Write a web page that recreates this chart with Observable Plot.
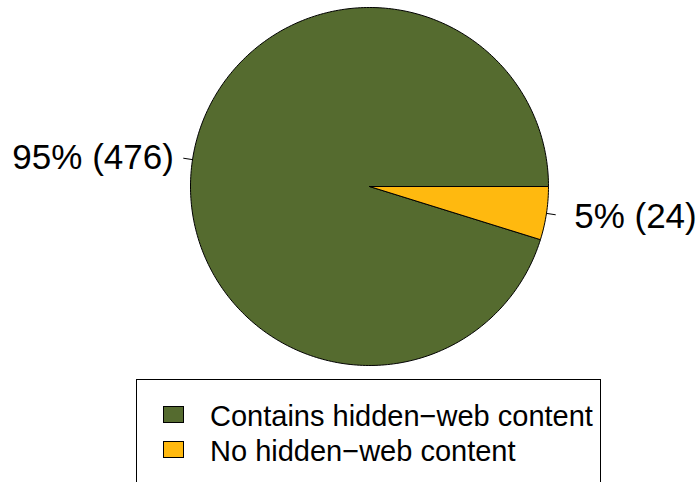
<!DOCTYPE html>
<html>
<head>
<meta charset="utf-8">
<script src="https://cdn.jsdelivr.net/npm/d3@7"></script>
<script src="https://cdn.jsdelivr.net/npm/@observablehq/plot@0.6"></script>
<style>
  html, body { margin: 0; padding: 0; background: #fff; overflow: hidden; width: 698px; height: 482px; }
  #wrap { position: relative; width: 698px; height: 482px; font-family: "Liberation Sans", Arial, Helvetica, sans-serif; }
  #legend { position: absolute; left: 136px; top: 379px; width: 465px; height: 200px; border: 1px solid #000; box-sizing: border-box; }
  .item { position: absolute; left: 73px; font-size: 29px; line-height: 1; white-space: nowrap; color: #000; }
  .sw { position: absolute; left: -47px; width: 21px; height: 17px; border: 1px solid #000; box-sizing: border-box; }
</style>
</head>
<body>
<div id="wrap"><div id="chart"></div><div id="legend"></div></div>
<script>
// Data
const categories = ["Contains hidden\u2212web content", "No hidden\u2212web content"];
const counts = [476, 24];
const colors = ["#556B2F", "#FFB90F"];

const total = d3.sum(counts);
// Angles counter-clockwise from 3 o'clock (as in R's pie)
let acc = 0;
const slices = counts.map((v, i) => {
  const a0 = acc / total * 2 * Math.PI;
  acc += v;
  const a1 = acc / total * 2 * Math.PI;
  return {cat: categories[i], value: v, a0, a1, mid: (a0 + a1) / 2,
          label: `${Math.round(v / total * 100)}% (${v})`};
});

// polygon vertices for each slice (unit radius)
const polys = [];
slices.forEach((s, i) => {
  const n = Math.max(2, Math.ceil((s.a1 - s.a0) / (Math.PI / 180)));
  polys.push({cat: s.cat, x: 0, y: 0, k: i});
  for (let j = 0; j <= n; j++) {
    const a = s.a0 + (s.a1 - s.a0) * j / n;
    polys.push({cat: s.cat, x: Math.cos(a), y: Math.sin(a), k: i});
  }
  polys.push({cat: s.cat, x: 0, y: 0, k: i});
});

const ticks = slices.flatMap((s, i) => [
  {k: i, x: Math.cos(s.mid), y: Math.sin(s.mid)},
  {k: i, x: 1.05 * Math.cos(s.mid), y: 1.05 * Math.sin(s.mid)}
]);
const labels = slices.map(s => ({x: 1.1 * Math.cos(s.mid), y: 1.1 * Math.sin(s.mid), label: s.label,
  anchor: Math.cos(s.mid) < 0 ? "end" : "start"}));

const W = 698, H = 379, cx = 369, cy = 186, R = 179;
const plot = Plot.plot({
  width: W, height: H,
  margin: 0,
  x: {domain: [-cx / R, (W - cx) / R], range: [0, W], axis: null},
  y: {domain: [-(H - cy) / R, cy / R], range: [H, 0], axis: null},
  color: {domain: categories, range: colors},
  style: {fontFamily: "'Liberation Sans', Arial, Helvetica, sans-serif", background: "white"},
  marks: [
    Plot.line(polys, {x: "x", y: "y", z: "k", fill: "cat", stroke: "black", strokeWidth: 1, curve: "linear"}),
    Plot.line(ticks, {x: "x", y: "y", z: "k", stroke: "black", strokeWidth: 1}),
    Plot.text(labels.filter(d => d.anchor === "end"), {x: "x", y: "y", text: "label", textAnchor: "end", fontSize: 35, fill: "black", dx: -1, dy: 1}),
    Plot.text(labels.filter(d => d.anchor === "start"), {x: "x", y: "y", text: "label", textAnchor: "start", fontSize: 35, fill: "black", dx: 10, dy: 1})
  ]
});
document.getElementById("chart").appendChild(plot);

const legend = document.getElementById("legend");
categories.forEach((c, i) => {
  const d = document.createElement("div");
  d.className = "item";
  d.style.top = (22 + i * 34.5) + "px";
  const sw = document.createElement("span");
  sw.className = "sw";
  sw.style.background = colors[i];
  sw.style.top = "4px";
  d.appendChild(sw);
  d.appendChild(document.createTextNode(c));
  legend.appendChild(d);
});
</script>
</body>
</html>
